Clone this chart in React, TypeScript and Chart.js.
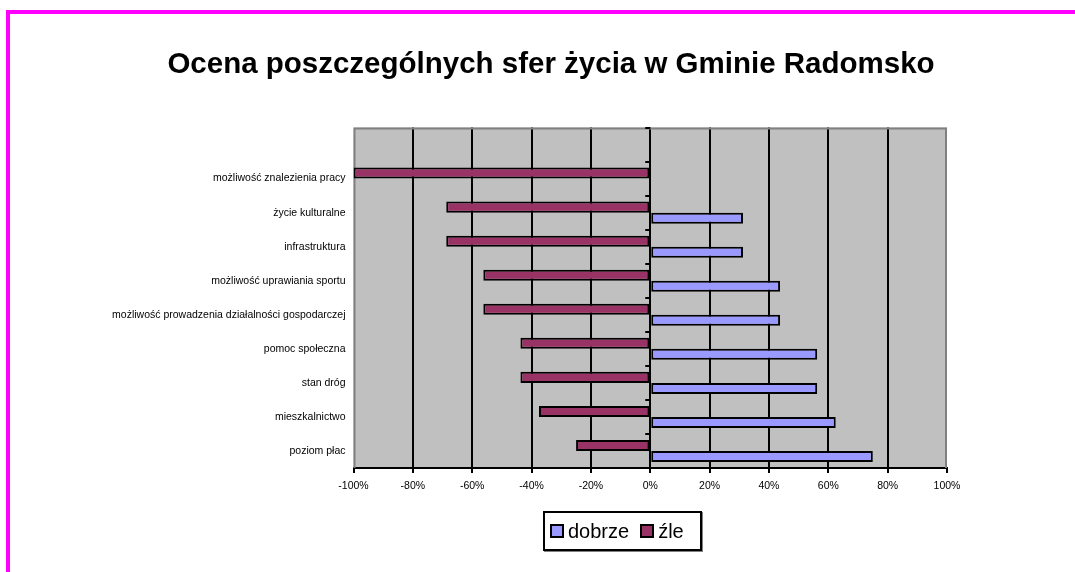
import React, { useEffect, useRef } from "react";
import { Chart, registerables } from "chart.js";

Chart.register(...registerables);

const titleText = "Ocena poszczególnych sfer życia w Gminie Radomsko";
const categories = [
  "",
  "możliwość znalezienia pracy",
  "życie kulturalne",
  "infrastruktura",
  "możliwość uprawiania sportu",
  "możliwość prowadzenia działalności gospodarczej",
  "pomoc społeczna",
  "stan dróg",
  "mieszkalnictwo",
  "poziom płac",
];
const zleValues = [null, -100, -68.75, -68.75, -56.25, -56.25, -43.75, -43.75, -37.5, -25];
const dobrzeValues = [null, 0, 31.25, 31.25, 43.75, 43.75, 56.25, 56.25, 62.5, 75];
const seriesNames = ["dobrze", "źle"];
const seriesColors = ["#9999FF", "#993366"];
const xMin = -100;
const xMax = 100;
const xStep = 20;

const FONT = "'Liberation Sans', Arial, sans-serif";

const plotDecor = {
  id: "plotDecor",
  afterLayout(chart: any) {
    // centre the title over the whole (wider) Excel chart area
    const t = chart.titleBlock;
    if (t) {
      t.left = 155;
      t.right = chart.chartArea.right;
    }
  },
  beforeDraw(chart: any) {
    const { ctx, chartArea: a } = chart;
    ctx.save();
    ctx.fillStyle = "#C0C0C0";
    ctx.fillRect(a.left, a.top, a.right - a.left, a.bottom - a.top);
    ctx.restore();
  },
  beforeDatasetsDraw(chart: any) {
    const { ctx, chartArea: a } = chart;
    const x = chart.scales.x;
    const y = chart.scales.y;
    ctx.save();
    ctx.strokeStyle = "#808080";
    ctx.lineWidth = 2;
    ctx.beginPath();
    ctx.moveTo(a.left + 1, a.bottom);
    ctx.lineTo(a.left + 1, a.top + 1);
    ctx.lineTo(a.right - 1, a.top + 1);
    ctx.lineTo(a.right - 1, a.bottom);
    ctx.stroke();
    const x0 = x.getPixelForValue(0);
    ctx.strokeStyle = "#000";
    ctx.lineWidth = 2;
    for (let i = 0; i <= categories.length; i++) {
      const py = Math.round(y.getPixelForValue(i - 0.5));
      ctx.beginPath();
      ctx.moveTo(x0 - 5, py);
      ctx.lineTo(x0, py);
      ctx.stroke();
    }
    ctx.restore();
  },
};

export default function App() {
  const canvasRef = useRef<HTMLCanvasElement | null>(null);

  useEffect(() => {
    const canvas = canvasRef.current;
    if (!canvas) return;
    const chart = new Chart(canvas, {
      type: "bar",
      data: {
        labels: categories,
        datasets: [
          {
            label: seriesNames[1],
            data: zleValues as any,
            backgroundColor: seriesColors[1],
            borderColor: "#000",
            borderWidth: 2,
            borderSkipped: false,
            barPercentage: 1,
            categoryPercentage: 0.647,
          },
          {
            label: seriesNames[0],
            data: dobrzeValues as any,
            backgroundColor: seriesColors[0],
            borderColor: "#000",
            borderWidth: 2,
            borderSkipped: false,
            barPercentage: 1,
            categoryPercentage: 0.647,
          },
        ],
      },
      options: {
        indexAxis: "y",
        responsive: false,
        animation: false,
        devicePixelRatio: 1,
        events: [],
        layout: { padding: { left: 20, right: 128, top: 0, bottom: 64 } },
        plugins: {
          legend: { display: false },
          tooltip: { enabled: false },
          title: {
            display: true,
            text: titleText,
            color: "#000",
            font: { family: FONT, size: 29.5, weight: "bold", lineHeight: 1.2 },
            padding: { top: 47.5, bottom: 44.6 },
          },
        },
        scales: {
          x: {
            type: "linear",
            min: xMin,
            max: xMax,
            ticks: {
              stepSize: xStep,
              color: "#000",
              font: { family: FONT, size: 10.5 },
              padding: 7,
              maxRotation: 0,
              callback: (v: any) => `${v}%`,
            },
            grid: {
              color: (c: any) =>
                c.tick && (c.tick.value === xMin || c.tick.value === xMax) ? "rgba(0,0,0,0)" : "#000",
              tickColor: "#000",
              lineWidth: 2,
              tickLength: 5,
            },
            border: { color: "#000", width: 2 },
            afterFit: (s: any) => {
              s.height = 40;
            },
          },
          y: {
            type: "category",
            offset: true,
            ticks: {
              color: "#000",
              font: { family: FONT, size: 10.5 },
              padding: 8,
              autoSkip: false,
            },
            grid: { display: false, drawTicks: false },
            border: { display: false },
            afterFit: (s: any) => {
              s.width = 333.5;
            },
          },
        },
      },
      plugins: [plotDecor],
    });
    return () => chart.destroy();
  }, []);

  const swatch = (color: string) => ({
    width: 14,
    height: 14,
    boxSizing: "border-box" as const,
    border: "2px solid #000",
    background: color,
    flex: "0 0 auto",
  });

  return (
    <div
      style={{
        position: "fixed",
        left: 0,
        top: 0,
        width: 1075,
        height: 572,
        overflow: "hidden",
        background: "#fff",
      }}
    >
      <div
        style={{
          position: "absolute",
          left: 6,
          top: 10,
          width: 1200,
          height: 700,
          borderTop: "4px solid #FF00FF",
          borderLeft: "4px solid #FF00FF",
        }}
      />
      <canvas
        ref={canvasRef}
        width={1075}
        height={572}
        style={{ position: "absolute", left: 0, top: 0, width: 1075, height: 572 }}
      />
      <div
        style={{
          position: "absolute",
          left: 543,
          top: 511,
          width: 159,
          height: 40,
          boxSizing: "border-box",
          border: "2px solid #000",
          boxShadow: "1px 1px 0 #808080",
          background: "#fff",
          display: "flex",
          alignItems: "center",
          paddingLeft: 5,
          fontFamily: FONT,
          fontSize: 20,
          lineHeight: 1,
          color: "#000",
        }}
      >
        <div style={swatch(seriesColors[0])} />
        <span style={{ marginLeft: 4 }}>{seriesNames[0]}</span>
        <div style={{ ...swatch(seriesColors[1]), marginLeft: 11 }} />
        <span style={{ marginLeft: 4 }}>{seriesNames[1]}</span>
      </div>
    </div>
  );
}
